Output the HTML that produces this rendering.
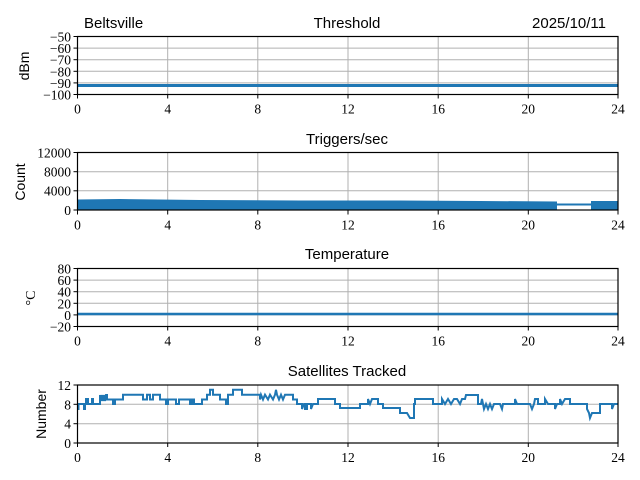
<!DOCTYPE html>
<html><head><meta charset="utf-8"><style>
body{margin:0;background:#fff}
svg{display:block}
.t{font-family:"Liberation Sans",sans-serif;font-size:15px;fill:#000}
.n{font-family:"Liberation Serif",serif;font-size:13.5px;fill:#000}
.g{stroke:#b0b0b0;stroke-width:1}
.a{fill:none;stroke:#000;stroke-width:1.2}
.d{fill:none;stroke:#1f77b4;stroke-width:2}
</style></head><body>
<svg width="640" height="480" viewBox="0 0 640 480" xmlns="http://www.w3.org/2000/svg">
<rect width="640" height="480" fill="#fff"/>
<defs>
<g id="vg">
<line class="g" x1="167.7" x2="167.7" y1="0" y2="58"/>
<line class="g" x1="257.8" x2="257.8" y1="0" y2="58"/>
<line class="g" x1="348" x2="348" y1="0" y2="58"/>
<line class="g" x1="438.2" x2="438.2" y1="0" y2="58"/>
<line class="g" x1="528.3" x2="528.3" y1="0" y2="58"/>
</g>
<g id="xt">
<g stroke="#000" stroke-width="1"><line x1="77.5" x2="77.5" y1="58" y2="62"/><line x1="167.7" x2="167.7" y1="58" y2="62"/><line x1="257.8" x2="257.8" y1="58" y2="62"/><line x1="348" x2="348" y1="58" y2="62"/><line x1="438.2" x2="438.2" y1="58" y2="62"/><line x1="528.3" x2="528.3" y1="58" y2="62"/><line x1="618" x2="618" y1="58" y2="62"/></g>
<g class="n" text-anchor="middle"><text x="77.5" y="77">0</text><text x="167.7" y="77">4</text><text x="257.8" y="77">8</text><text x="348" y="77">12</text><text x="438.2" y="77">16</text><text x="528.3" y="77">20</text><text x="618" y="77">24</text></g>
</g>
</defs>

<!-- Panel 1 -->
<text class="t" x="84" y="28">Beltsville</text>
<text class="t" x="347" y="28" text-anchor="middle">Threshold</text>
<text class="t" x="606" y="28" text-anchor="end">2025/10/11</text>
<g transform="translate(0,36.5)"><use href="#vg"/>
<g class="g"><line x1="77.5" x2="618" y1="11.6" y2="11.6"/><line x1="77.5" x2="618" y1="23.2" y2="23.2"/><line x1="77.5" x2="618" y1="34.8" y2="34.8"/><line x1="77.5" x2="618" y1="46.4" y2="46.4"/></g>
<line x1="77.5" x2="618" y1="49" y2="49" stroke="#1f77b4" stroke-width="3"/>
<rect class="a" x="77.5" y="0" width="540.5" height="58"/>
<use href="#xt"/>
<g stroke="#000"><line x1="73.5" x2="77.5" y1="0" y2="0"/><line x1="73.5" x2="77.5" y1="11.6" y2="11.6"/><line x1="73.5" x2="77.5" y1="23.2" y2="23.2"/><line x1="73.5" x2="77.5" y1="34.8" y2="34.8"/><line x1="73.5" x2="77.5" y1="46.4" y2="46.4"/><line x1="73.5" x2="77.5" y1="58" y2="58"/></g>
<g class="n" text-anchor="end"><text x="71" y="5">−50</text><text x="71" y="16.6">−60</text><text x="71" y="28.2">−70</text><text x="71" y="39.8">−80</text><text x="71" y="51.4">−90</text><text x="71" y="63">−100</text></g>
</g>
<text class="t" transform="translate(29,66) rotate(-90)" text-anchor="middle" style="font-size:14px">dBm</text>

<!-- Panel 2 -->
<text class="t" x="347" y="144" text-anchor="middle">Triggers/sec</text>
<g transform="translate(0,152.5)"><use href="#vg"/>
<g class="g"><line x1="77.5" x2="618" y1="0" y2="0"/><line x1="77.5" x2="618" y1="19.2" y2="19.2"/><line x1="77.5" x2="618" y1="38.3" y2="38.3"/></g>
<polygon fill="#1f77b4" points="77.5,57.5 77.5,47 120,46.5 200,47.5 300,48 400,48 480,48.5 557,49 557,57.5"/>
<line x1="557" x2="591" y1="52" y2="52" stroke="#1f77b4" stroke-width="2"/>
<rect x="591" y="48.5" width="27" height="9" fill="#1f77b4"/>
<rect class="a" x="77.5" y="0" width="540.5" height="57.5"/>
<use href="#xt"/>
<g stroke="#000"><line x1="73.5" x2="77.5" y1="0" y2="0"/><line x1="73.5" x2="77.5" y1="19.2" y2="19.2"/><line x1="73.5" x2="77.5" y1="38.3" y2="38.3"/><line x1="73.5" x2="77.5" y1="57.5" y2="57.5"/></g>
<g class="n" text-anchor="end"><text x="71" y="5">12000</text><text x="71" y="24">8000</text><text x="71" y="43">4000</text><text x="71" y="62.5">0</text></g>
</g>
<text class="t" transform="translate(25,182) rotate(-90)" text-anchor="middle" style="font-size:14px">Count</text>

<!-- Panel 3 -->
<text class="t" x="347" y="259" text-anchor="middle">Temperature</text>
<g transform="translate(0,268.5)"><use href="#vg"/>
<g class="g"><line x1="77.5" x2="618" y1="11.6" y2="11.6"/><line x1="77.5" x2="618" y1="23.2" y2="23.2"/><line x1="77.5" x2="618" y1="34.8" y2="34.8"/><line x1="77.5" x2="618" y1="46.4" y2="46.4"/></g>
<line x1="77.5" x2="618" y1="45.5" y2="45.5" stroke="#1f77b4" stroke-width="2.5"/>
<rect class="a" x="77.5" y="0" width="540.5" height="58"/>
<use href="#xt"/>
<g stroke="#000"><line x1="73.5" x2="77.5" y1="0" y2="0"/><line x1="73.5" x2="77.5" y1="11.6" y2="11.6"/><line x1="73.5" x2="77.5" y1="23.2" y2="23.2"/><line x1="73.5" x2="77.5" y1="34.8" y2="34.8"/><line x1="73.5" x2="77.5" y1="46.4" y2="46.4"/><line x1="73.5" x2="77.5" y1="58" y2="58"/></g>
<g class="n" text-anchor="end"><text x="71" y="5">80</text><text x="71" y="16.6">60</text><text x="71" y="28.2">40</text><text x="71" y="39.8">20</text><text x="71" y="51.4">0</text><text x="71" y="63">−20</text></g>
</g>
<text class="n" transform="translate(35,298) rotate(-90)" text-anchor="middle" style="font-size:14px">°C</text>

<!-- Panel 4 -->
<text class="t" x="347" y="376" text-anchor="middle">Satellites Tracked</text>
<g transform="translate(0,385)"><use href="#vg"/>
<g class="g"><line x1="77.5" x2="618" y1="19.3" y2="19.3"/><line x1="77.5" x2="618" y1="38.7" y2="38.7"/></g>
</g>
<polyline class="d" points="77.5,409 78.5,409 78.5,404 84,404 84,409 85,409 85,404 86,404 86,399 88,399 88,404 92,404 92,399 93,399 93,404 100,404 100,395 101,401 102,395 103,401 104,395 105,401 106,395 107,395 107,399.5 113,399.5 113,404 115,404 115,399.5 123,399.5 123,394.7 143,394.7 143,399.5 147,399.5 147,394.7 150,394.7 150,399.5 153,399.5 153,394.7 160,394.7 160,399.5 166,399.5 166,404 168,404 168,399.5 176,399.5 176,404 179,404 179,399.5 190,399.5 190,404 192,404 192,399.5 194,399.5 194,404 202,404 202,399.5 207,399.5 207,394.7 210,394.7 210,389.8 213,389.8 213,394.7 220,394.7 220,399.5 226,399.5 226,404 228,404 228,394.7 233,394.7 233,389.8 242,389.8 242,394.7 260,394.7 260,399.5 261,394.7 263,399.5 265,394.7 268,399.5 270,394.7 273,399.5 275,394.7 276,389.8 277,394.7 279,399.5 281,394.7 283,399.5 285,394.7 293,394.7 293,399.5 297,399.5 297,404 302,404 302,409 304,404 305,404 305,409 307,409 307,404 311,404 311,409 313,404 318,404 318,399 335,399 335,404 340,404 340,408 360,408 360,404 368,404 368,399 370,404 372,399 378,399 378,404 383,404 383,408 400,408 400,413 407,413 410,418 414,418 414,404 415,404 415,399 420,399 420,399 433,399 433,404 442,404 442,399 445,404 448,399 451,404 454,399 457,399 460,404 462,399 465,399 466,395 468,395 470,395 478,395 478,404 481,404 482,399 484,409 486,404 488,409 490,404 492,409 494,404 500,404 502,409 503,404 515,404 515,399 517,404 530,404 532,409 534,404 535,399 538,399 538,404 545,404 545,399 548,404 555,404 555,409 557,404 560,404 560,399 562,404 565,399 570,399 570,404 587,404 587,409 589,413 590,418 592,413 600,413 600,404 612,404 612,409 614,404 618,404"/>
<g transform="translate(0,385)">
<rect class="a" x="77.5" y="0" width="540.5" height="58"/>
<use href="#xt"/>
<g stroke="#000"><line x1="73.5" x2="77.5" y1="0" y2="0"/><line x1="73.5" x2="77.5" y1="19.3" y2="19.3"/><line x1="73.5" x2="77.5" y1="38.7" y2="38.7"/><line x1="73.5" x2="77.5" y1="58" y2="58"/></g>
<g class="n" text-anchor="end"><text x="71" y="5">12</text><text x="71" y="24.3">8</text><text x="71" y="43.7">4</text><text x="71" y="63">0</text></g>
</g>
<text class="t" transform="translate(46,414) rotate(-90)" text-anchor="middle" style="font-size:14px">Number</text>
</svg>
</body></html>
